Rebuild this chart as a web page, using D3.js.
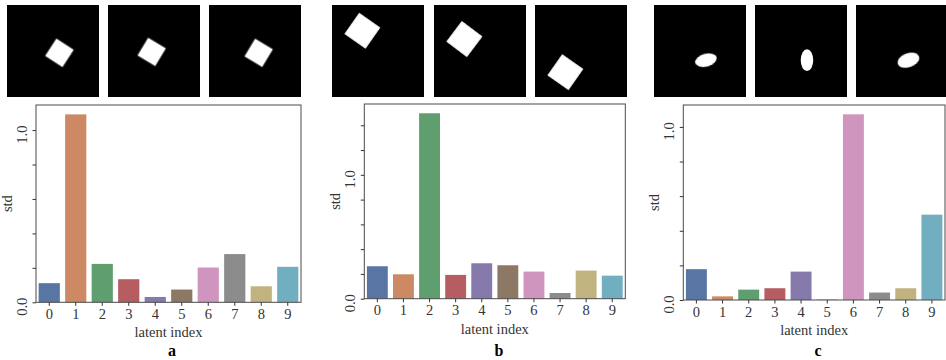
<!DOCTYPE html>
<html>
<head>
<meta charset="utf-8">
<script src="https://cdn.jsdelivr.net/npm/d3@7"></script>
<style>
  html, body { margin: 0; padding: 0; background: #fff; }
  svg { display: block; }
  text { font-family: "Liberation Serif", "DejaVu Serif", serif; }
</style>
</head>
<body>
<svg id="chart" width="946" height="360"></svg>
<script>
// ---- data ----
const categories = ["0", "1", "2", "3", "4", "5", "6", "7", "8", "9"];
const stdA = [0.111, 1.091, 0.223, 0.134, 0.031, 0.074, 0.202, 0.280, 0.093, 0.206];
const stdB = [0.262, 0.197, 1.497, 0.192, 0.286, 0.270, 0.219, 0.046, 0.227, 0.186];
const stdC = [0.178, 0.021, 0.060, 0.068, 0.164, 0.002, 1.073, 0.043, 0.068, 0.493];
const panelLabels = ["a", "b", "c"];
const yLabeledTicks = [0.0, 1.0];
const yTickStep = 0.2;
const xAxisTitle = "latent index";
const yAxisTitle = "std";
const barColors = ["#5975a4", "#cc8963", "#5f9e6e", "#b55d60", "#857aab",
                   "#8d7866", "#d095bf", "#8c8c8c", "#c1b37f", "#71aec0"];

// thumbnail shapes: fractional centre, size fraction, rotation (deg)
const thumbsA = [
  {shape: "square", cx: 0.57, cy: 0.52, s: 0.225, rot: 33},
  {shape: "square", cx: 0.475, cy: 0.51, s: 0.225, rot: 31},
  {shape: "square", cx: 0.54, cy: 0.52, s: 0.225, rot: 31}
];
const thumbsB = [
  {shape: "square", cx: 0.33, cy: 0.28, s: 0.28, rot: 35},
  {shape: "square", cx: 0.33, cy: 0.37, s: 0.28, rot: 37},
  {shape: "square", cx: 0.33, cy: 0.73, s: 0.28, rot: 35}
];
const thumbsC = [
  {shape: "ellipse", cx: 0.565, cy: 0.60, rx: 0.12, ry: 0.07, rot: -15},
  {shape: "ellipse", cx: 0.565, cy: 0.60, rx: 0.068, ry: 0.118, rot: 0},
  {shape: "ellipse", cx: 0.57, cy: 0.60, rx: 0.123, ry: 0.075, rot: -20}
];

// ---- layout ----
const layout = [
  {values: stdA, thumbs: thumbsA, left: 36,    right: 301, top: 105, bottom: 302.3, letterX: 172, thumbX: [7, 108, 209]},
  {values: stdB, thumbs: thumbsB, left: 364.3, right: 625.3, top: 104, bottom: 298.7, letterX: 499, thumbX: [332, 434, 535]},
  {values: stdC, thumbs: thumbsC, left: 683.3, right: 945, top: 105, bottom: 300, letterX: 818, thumbX: [654, 755, 856]}
];
const thumbY = 5, thumbSize = 92;
const fontSize = 14.5;

const svg = d3.select("#chart");
const defs = svg.append("defs");
defs.append("filter").attr("id", "soft")
  .attr("x", "-20%").attr("y", "-20%").attr("width", "140%").attr("height", "140%")
  .append("feGaussianBlur").attr("stdDeviation", 0.6);

layout.forEach((p, pi) => {
  // thumbnails
  p.thumbs.forEach((t, ti) => {
    const g = svg.append("g").attr("transform", `translate(${p.thumbX[ti]},${thumbY})`);
    g.append("rect").attr("width", thumbSize).attr("height", thumbSize).attr("fill", "#000");
    const cx = t.cx * thumbSize, cy = t.cy * thumbSize;
    const sg = g.append("g").attr("transform", `translate(${cx},${cy}) rotate(${t.rot})`)
      .attr("filter", "url(#soft)");
    if (t.shape === "square") {
      const s = t.s * thumbSize;
      sg.append("rect").attr("x", -s / 2).attr("y", -s / 2).attr("width", s).attr("height", s).attr("fill", "#fff");
    } else {
      sg.append("ellipse").attr("rx", t.rx * thumbSize).attr("ry", t.ry * thumbSize).attr("fill", "#fff");
    }
  });

  // scales
  const ymax = d3.max(p.values) * 1.05;
  const x = d3.scaleBand().domain(categories).range([p.left, p.right]).paddingInner(0.2).paddingOuter(0.1);
  const y = d3.scaleLinear().domain([0, ymax]).range([p.bottom, p.top]);

  // bars
  svg.append("g").selectAll("rect").data(p.values).join("rect")
    .attr("x", (d, i) => x(categories[i]))
    .attr("width", x.bandwidth())
    .attr("y", d => y(d))
    .attr("height", d => y(0) - y(d))
    .attr("fill", (d, i) => barColors[i]);

  // frame
  svg.append("rect")
    .attr("x", p.left).attr("y", p.top)
    .attr("width", p.right - p.left).attr("height", p.bottom - p.top)
    .attr("fill", "none").attr("stroke", "#4a4a4a").attr("stroke-width", 1);

  // x axis
  const xAxis = d3.axisBottom(x).tickSize(3.5).tickPadding(3);
  const gx = svg.append("g").attr("transform", `translate(0,${p.bottom})`).call(xAxis);
  gx.select(".domain").remove();
  gx.selectAll(".tick line").attr("stroke", "#333");
  gx.selectAll(".tick text").attr("fill", "#333").style("font-size", fontSize + "px")
    .style("font-family", '"Liberation Serif", serif');

  // y axis
  const yTicks = d3.range(0, ymax + 1e-9, yTickStep).map(v => +v.toFixed(2));
  const yAxis = d3.axisLeft(y).tickValues(yTicks).tickSize(3.5)
    .tickFormat(v => yLabeledTicks.some(l => Math.abs(l - v) < 1e-6) ? d3.format(".1f")(v) : "");
  const gy = svg.append("g").attr("transform", `translate(${p.left},0)`).call(yAxis);
  gy.select(".domain").remove();
  gy.selectAll(".tick line").attr("stroke", "#333");
  gy.selectAll(".tick text")
    .attr("fill", "#333")
    .style("font-size", fontSize + "px")
    .style("font-family", '"Liberation Serif", serif')
    .attr("text-anchor", "middle")
    .attr("x", null).attr("dy", null)
    .attr("transform", "translate(-9,4) rotate(-90)");

  // axis titles
  svg.append("text")
    .attr("x", (p.left + p.right) / 2).attr("y", p.bottom + 35)
    .attr("text-anchor", "middle").attr("fill", "#333")
    .style("font-size", fontSize + "px").text(xAxisTitle);
  svg.append("text")
    .attr("transform", `translate(${p.left - 24},${(p.top + p.bottom) / 2}) rotate(-90)`)
    .attr("text-anchor", "middle").attr("fill", "#333")
    .style("font-size", fontSize + "px").text(yAxisTitle);

  // panel letter
  svg.append("text")
    .attr("x", p.letterX).attr("y", 356)
    .attr("text-anchor", "middle").attr("fill", "#000")
    .style("font-size", "16px").style("font-weight", "bold").text(panelLabels[pi]);
});
</script>
</body>
</html>
